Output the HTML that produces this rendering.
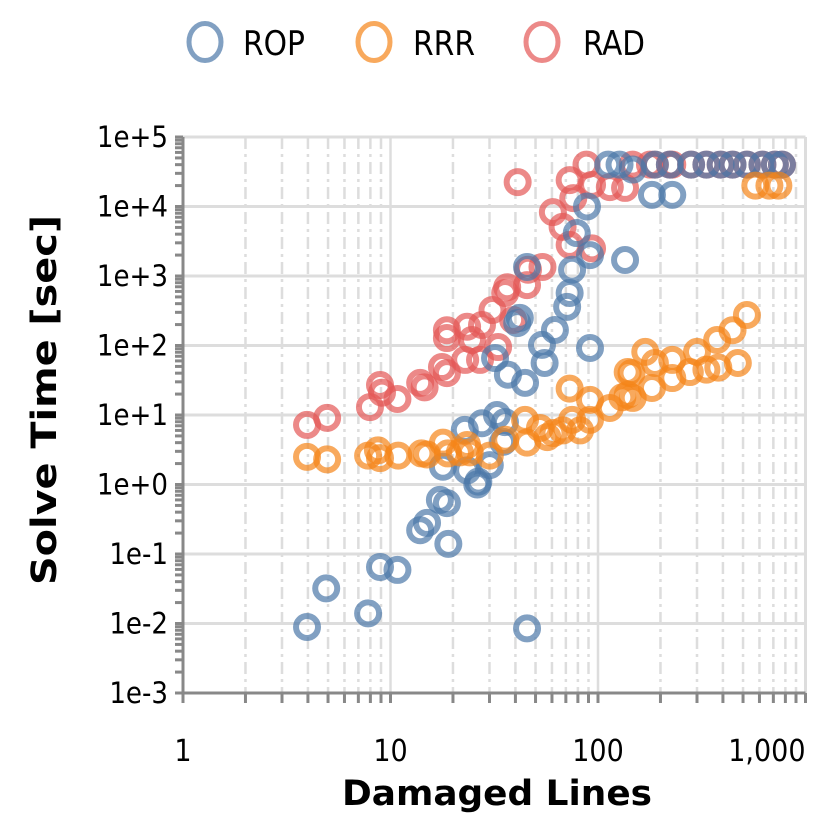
<!DOCTYPE html>
<html><head><meta charset="utf-8"><style>
html,body{margin:0;padding:0;background:#fff;}
svg{display:block;font-family:"DejaVu Sans Condensed","DejaVu Sans","Liberation Sans",sans-serif;}
</style></head><body>
<svg id="chart" width="830" height="830" viewBox="0 0 830 830">
<g id="grid"></g>
<g id="axes"></g>
<g id="marks"></g>
<g id="legend"></g>
<text x="497" y="805" text-anchor="middle" font-size="35" font-weight="bold" textLength="310" lengthAdjust="spacingAndGlyphs">Damaged Lines</text>
<text transform="translate(56,400) rotate(-90)" text-anchor="middle" font-size="35" font-weight="bold" textLength="370" lengthAdjust="spacingAndGlyphs">Solve Time [sec]</text>
</svg>
<script>
const xTickValues=[1,10,100,1000];
const xTickLabels=["1","10","100","1,000"];
const yTickValues=[1e5,1e4,1e3,1e2,1e1,1,0.1,0.01,0.001];
const yTickLabels=["1e+5","1e+4","1e+3","1e+2","1e+1","1e+0","1e-1","1e-2","1e-3"];
const seriesNames=["ROP","RRR","RAD"];
const ropX=[3.96,4.9,7.8,8.9,10.8,13.9,15,17.3,18.7,19,17.9,23.4,26.5,26.2,30.1,22.8,27.6,32.6,35.6,34.9,45.5,31.9,36.8,44.5,53.7,55.3,91.5,62,45.5,40.8,42,88.5,79,91.5,135,75,73,71,112,127,147,182,228,188,222,281,333,390,445,522,620,712,770];
const ropY=[0.0089,0.032,0.014,0.065,0.059,0.22,0.28,0.6,0.54,0.14,1.8,1.6,1.1,1.0,1.9,6.1,7.6,10,7.9,4.1,0.0085,66,38,29,102,56,92,167,1350,210,250,10000,4150,2000,1700,1230,570,360,40000,40000,34000,14700,14700,40000,40000,40000,40000,40000,40000,40000,40000,40000,40000];
const rrrX=[3.96,4.95,7.8,8.7,8.9,10.9,14.1,15,17.9,18.9,21.6,23.4,24.1,30.1,35.7,44.5,45.5,52.5,57,67.6,75,73,91.5,91.5,114,139,139,131,147,145,169,188,182,228,228,277,300,333,375,380,445,472,522,573,670,740,61,82];
const rrrY=[2.5,2.3,2.6,3.1,2.4,2.6,2.8,2.7,4.0,2.8,2.9,3.7,2.9,2.6,4.4,8.5,4.0,6.5,4.8,6.0,8.5,24,16.5,8.5,12.6,19.5,41.6,18,17.6,40,81,56,24.5,62,34,41.5,81,45,120,48,166,56,275,20000,20000,20000,5.5,6];
const radX=[3.96,4.95,7.96,8.9,9.1,10.8,13.9,14.6,17.7,18.7,22.9,27,18.7,18.7,23.4,27.6,24.7,33,31,39,35.7,36.5,45.5,46,54,41,60.6,67.5,73,93.6,76,73,88,93.6,114,135,147,178,228,188,222,281,333,390,445,522,620,712,770];
const radY=[7.2,9.1,13,27,21,17,29,25,49,40,62,62,166,128,186,197,120,95,324,233,570,690,740,1230,1350,22400,8300,5100,2800,2500,13200,24000,40000,20500,19000,18500,40000,40000,40000,40000,40000,40000,40000,40000,40000,40000,40000,40000,40000];

const X0=183,X1=805.5,Y0=137,Y1=693;
const xs=v=>X0+(X1-X0)*Math.log10(v)/3;
const ys=v=>Y0+(Y1-Y0)*(5-Math.log10(v))/8;
const NS="http://www.w3.org/2000/svg";
function mk(tag,attrs,parent){const e=document.createElementNS(NS,tag);for(const k in attrs)e.setAttribute(k,attrs[k]);parent.appendChild(e);return e;}
const grid=document.getElementById('grid'),axes=document.getElementById('axes'),marks=document.getElementById('marks'),legend=document.getElementById('legend');

for(let d=0;d<3;d++){for(let m=1;m<10;m++){const v=m*Math.pow(10,d);const x=xs(v);
 const l=mk('line',{x1:x,x2:x,y1:Y0,y2:Y1,stroke:'#ddd','stroke-width':2.5},grid);
 if(m!==1)l.setAttribute('stroke-dasharray','12,5,3,5');
 
 }}
yTickValues.forEach(v=>{const y=ys(v);const l=mk('line',{x1:X0,x2:X1,y1:y,y2:y,stroke:'#ddd','stroke-width':3},grid);
 
 });
mk('line',{x1:X1,x2:X1,y1:Y0,y2:Y1,stroke:'#ddd','stroke-width':3},grid);

const yl=mk('line',{x1:X0,x2:X0,y1:Y0,y2:Y1,stroke:'#888','stroke-width':3},axes);


for(let d=-3;d<5;d++){for(let m=1;m<10;m++){const v=m*Math.pow(10,d);const y=ys(v);
 const t=mk('line',{x1:X0-8,x2:X0,y1:y,y2:y,stroke:'#888','stroke-width':3},axes);
 
 }}
mk('line',{x1:X0-8,x2:X0,y1:Y0,y2:Y0,stroke:'#888','stroke-width':3},axes);
yTickValues.forEach((v,i)=>{const t=mk('text',{x:168,y:ys(v)+10,'text-anchor':'end','font-size':29},axes);t.textContent=yTickLabels[i];
 
 });
const xl=mk('line',{x1:X0,x2:X1,y1:Y1,y2:Y1,stroke:'#888','stroke-width':3},axes);


for(let d=0;d<3;d++){for(let m=1;m<10;m++){const v=m*Math.pow(10,d);const x=xs(v);
 const t=mk('line',{x1:x,x2:x,y1:Y1,y2:Y1+10,stroke:'#888','stroke-width':3},axes);
 
 }}
mk('line',{x1:X1,x2:X1,y1:Y1,y2:Y1+10,stroke:'#888','stroke-width':3},axes);
xTickValues.forEach((v,i)=>{const last=i===xTickValues.length-1;
 const t=mk('text',{x:last?X1:xs(v),y:761,'text-anchor':last?'end':'middle','font-size':30},axes);t.textContent=xTickLabels[i];
 
 });

const colors=["#4c78a8","#f58518","#e45756"];
const sets=[[ropX,ropY],[rrrX,rrrY],[radX,radY]];
const drawOrder=[2,0,1];
drawOrder.forEach(si=>{const s=sets[si];const g=mk('g',{},marks);
 
 
 s[0].forEach((xv,i)=>{const c=mk('circle',{cx:xs(xv),cy:ys(s[1][i]),r:11,fill:'none',stroke:colors[si],'stroke-width':6,'stroke-opacity':0.7},g);
  
  });});

const lx=[205,374,542];
const tx=[243,413,583];
seriesNames.forEach((n,i)=>{const g=mk('g',{},legend);
 
 
 mk('ellipse',{cx:lx[i],cy:42,rx:16,ry:18.5,fill:'none',stroke:colors[i],'stroke-width':5,'stroke-opacity':0.7},g);
 const t=mk('text',{x:tx[i],y:55,'font-size':34,textLength:62,lengthAdjust:'spacingAndGlyphs'},g);t.textContent=n;});
</script>
</body></html>
